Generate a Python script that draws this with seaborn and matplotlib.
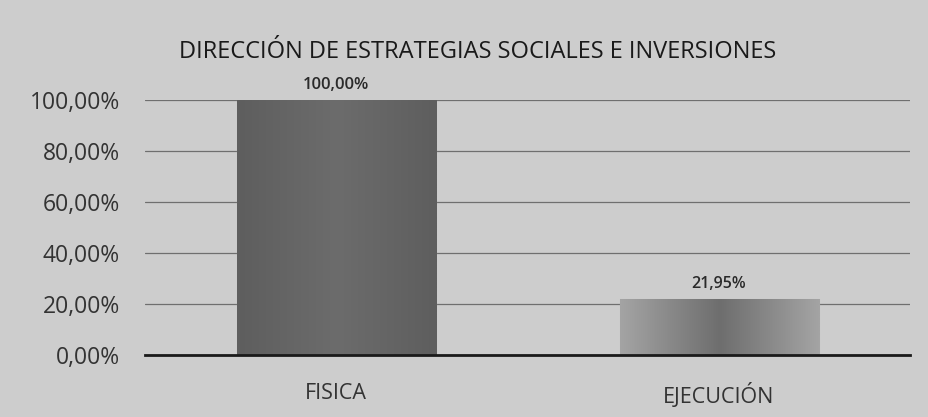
import numpy as np
import pandas as pd
import matplotlib
matplotlib.use("Agg")
import matplotlib.pyplot as plt
import seaborn as sns

categorias = ["FISICA", "EJECUCIÓN"]
valores = [1.0, 0.2195]
etiquetas = ["100,00%", "21,95%"]
ticks_y = [0.0, 0.2, 0.4, 0.6, 0.8, 1.0]
ticks_txt = ["0,00%", "20,00%", "40,00%", "60,00%", "80,00%", "100,00%"]

sns.set_style("white")
plt.rcParams["font.family"] = ["Open Sans", "DejaVu Sans"]

df = pd.DataFrame({"cat": categorias, "val": valores})

fig = plt.figure(figsize=(9.29, 4.17), dpi=100, facecolor="#cdcdcd")
ax = fig.add_axes([0.156, 0.149, 0.824, 0.611])
ax.set_facecolor("#cdcdcd")

sns.barplot(data=df, x="cat", y="val", color="#777777", width=0.52, ax=ax,
            saturation=1)

# shading inside bars (scan look)
tonos = [("#5e5e5e", "#6c6c6c"), ("#a4a4a4", "#6e6e6e")]
for p, (c1, c2) in zip(ax.patches, tonos):
    x0, y0 = p.get_x(), p.get_y()
    w, h = p.get_width(), p.get_height()
    grad = np.abs(np.linspace(-1, 1, 200))[None, :]
    cmap = matplotlib.colors.LinearSegmentedColormap.from_list("g", [c2, c1])
    im = ax.imshow(grad, extent=[x0, x0 + w, y0, y0 + h], aspect="auto",
                   cmap=cmap, vmin=0, vmax=1, zorder=p.get_zorder() + 0.1)
    im.set_clip_path(p)
    p.set_edgecolor("#bdbdbd")
    p.set_linewidth(0.8)

ax.set_xlim(-0.5, 1.5)
ax.set_ylim(0, 1.0)
ax.set_yticks(ticks_y)
ax.set_yticklabels(ticks_txt, fontsize=16.5, color="#333333")
ax.tick_params(axis="x", labelsize=15.5, colors="#333333", length=0, pad=20)
ax.tick_params(axis="y", length=0, pad=18)
ax.set_xlabel("")
ax.set_ylabel("")
ax.grid(axis="y", color="#6f6f6f", linewidth=0.9)
ax.set_axisbelow(True)
for s in ["top", "right", "left"]:
    ax.spines[s].set_visible(False)
ax.spines["bottom"].set_color("#1a1a1a")
ax.spines["bottom"].set_linewidth(2.0)
ax.spines["bottom"].set_zorder(5)

tam = [12, 11.5]
for i, (v, t) in enumerate(zip(valores, etiquetas)):
    ax.annotate(t, (i, v), xytext=(0, 5), textcoords="offset points",
                ha="center", va="bottom", fontsize=tam[i], fontweight="semibold",
                color="#2a2a2a", annotation_clip=False)

fig.text(0.514, 0.875, "DIRECCIÓN DE ESTRATEGIAS SOCIALES E INVERSIONES",
         ha="center", va="center", fontsize=17, fontweight="medium",
         color="#1a1a1a")

fig.savefig("out.png", dpi=100, facecolor=fig.get_facecolor())
